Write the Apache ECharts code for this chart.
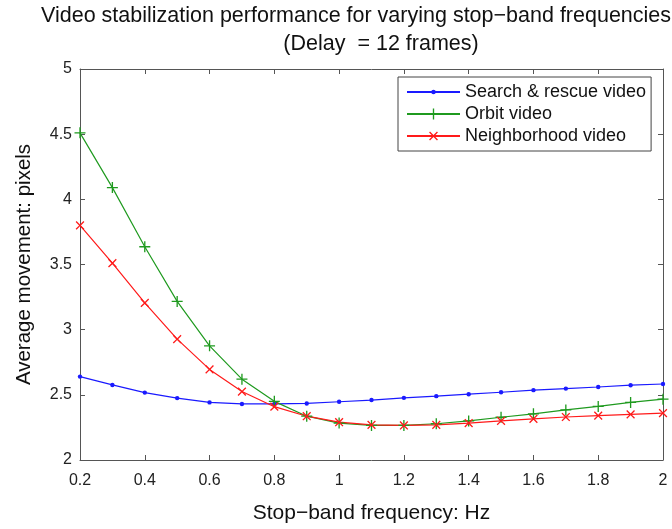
<!DOCTYPE html>
<html>
<head>
<meta charset="utf-8">
<script src="https://cdn.jsdelivr.net/npm/echarts@6/dist/echarts.min.js"></script>
<style>
html,body{margin:0;padding:0;background:#fff;}
#chart{width:672px;height:529px;}
</style>
</head>
<body>
<div id="chart"></div>
<script>
var freqs = [0.2,0.3,0.4,0.5,0.6,0.7,0.8,0.9,1.0,1.1,1.2,1.3,1.4,1.5,1.6,1.7,1.8,1.9,2.0];
var searchRescue = [2.64,2.576,2.517,2.475,2.442,2.43,2.43,2.434,2.447,2.46,2.477,2.49,2.505,2.52,2.536,2.548,2.56,2.574,2.583];
var orbit = [4.51,4.09,3.636,3.217,2.876,2.62,2.45,2.336,2.283,2.265,2.265,2.278,2.30,2.328,2.354,2.384,2.411,2.442,2.467];
var neighborhood = [3.80,3.51,3.205,2.927,2.695,2.525,2.409,2.336,2.29,2.27,2.265,2.27,2.283,2.30,2.316,2.33,2.34,2.35,2.36];
var seriesNames = ['Search & rescue video','Orbit video','Neighborhood video'];
var titleLine1 = 'Video stabilization performance for varying stop\u2212band frequencies';
var titleLine2 = '(Delay  = 12 frames)';
var xLabel = 'Stop\u2212band frequency: Hz';
var yLabel = 'Average movement: pixels';

function pairs(ys){ return freqs.map(function(x,i){ return [x, ys[i]]; }); }
var FONT = '"Liberation Sans", Arial, sans-serif';
var plusPath = 'path://M4.4,0H5.6V4.4H10V5.6H5.6V10H4.4V5.6H0V4.4H4.4Z';
var dotPath = 'path://M0,0M10,10M5,3A2,2,0,1,1,5,7A2,2,0,1,1,5,3Z';
var fmt = function(v){ return String(+v.toFixed(1)); };

var chart = echarts.init(document.getElementById('chart'));
var axisLine = {show:true, lineStyle:{color:'#555', width:1}};
var tick = {show:true, inside:true, length:5, lineStyle:{color:'#555'}};
chart.setOption({
  animation:false,
  backgroundColor:'#fff',
  grid:{left:80, right:9, top:69, bottom:64, containLabel:false},
  graphic:[
    {type:'text', left:41, top:5, style:{text:titleLine1, font:'21.5px '+FONT, fill:'#111'}},
    {type:'text', x:381, y:44, style:{text:titleLine2, font:'21.5px '+FONT, fill:'#111', textAlign:'center', textVerticalAlign:'middle'}}
  ],
  legend:{
    orient:'vertical', left:398, top:77,
    data:seriesNames,
    backgroundColor:'#fff', borderColor:'#444', borderWidth:1,
    padding:[6,5,6,8], itemGap:4, itemWidth:53, itemHeight:14,
    textStyle:{fontFamily:FONT, fontSize:18, color:'#111'}
  },
  xAxis:[{
    type:'value', min:0.2, max:2, interval:0.2,
    name:xLabel, nameLocation:'middle', nameGap:43,
    nameTextStyle:{fontFamily:FONT, fontSize:21, color:'#111'},
    axisLine:axisLine, axisTick:tick, splitLine:{show:false},
    axisLabel:{formatter:fmt, fontFamily:FONT, fontSize:16, color:'#222', margin:13}
  },{
    type:'value', position:'top', min:0.2, max:2, interval:0.2,
    axisLine:axisLine, axisTick:tick, splitLine:{show:false}, axisLabel:{show:false}
  }],
  yAxis:[{
    type:'value', min:2, max:5, interval:0.5,
    name:yLabel, nameLocation:'middle', nameGap:45,
    nameTextStyle:{fontFamily:FONT, fontSize:20.5, color:'#111'},
    axisLine:axisLine, axisTick:tick, splitLine:{show:false},
    axisLabel:{formatter:fmt, fontFamily:FONT, fontSize:16, color:'#222', margin:8}
  },{
    type:'value', position:'right', min:2, max:5, interval:0.5,
    axisLine:axisLine, axisTick:tick, splitLine:{show:false}, axisLabel:{show:false}
  }],
  series:[
    {name:seriesNames[0], type:'line', data:pairs(searchRescue),
     symbol:dotPath, symbolSize:11, color:'#1a1aff',
     lineStyle:{width:1.2, color:'#1a1aff'}, itemStyle:{color:'#1a1aff'}},
    {name:seriesNames[1], type:'line', data:pairs(orbit),
     symbol:plusPath, symbolSize:11, color:'#1f9a1f',
     lineStyle:{width:1.2, color:'#1f9a1f'}, itemStyle:{color:'#1f9a1f'}},
    {name:seriesNames[2], type:'line', data:pairs(neighborhood),
     symbol:plusPath, symbolSize:11, symbolRotate:45, color:'#ff1a1a',
     lineStyle:{width:1.2, color:'#ff1a1a'}, itemStyle:{color:'#ff1a1a'}}
  ]
});
</script>
</body>
</html>
